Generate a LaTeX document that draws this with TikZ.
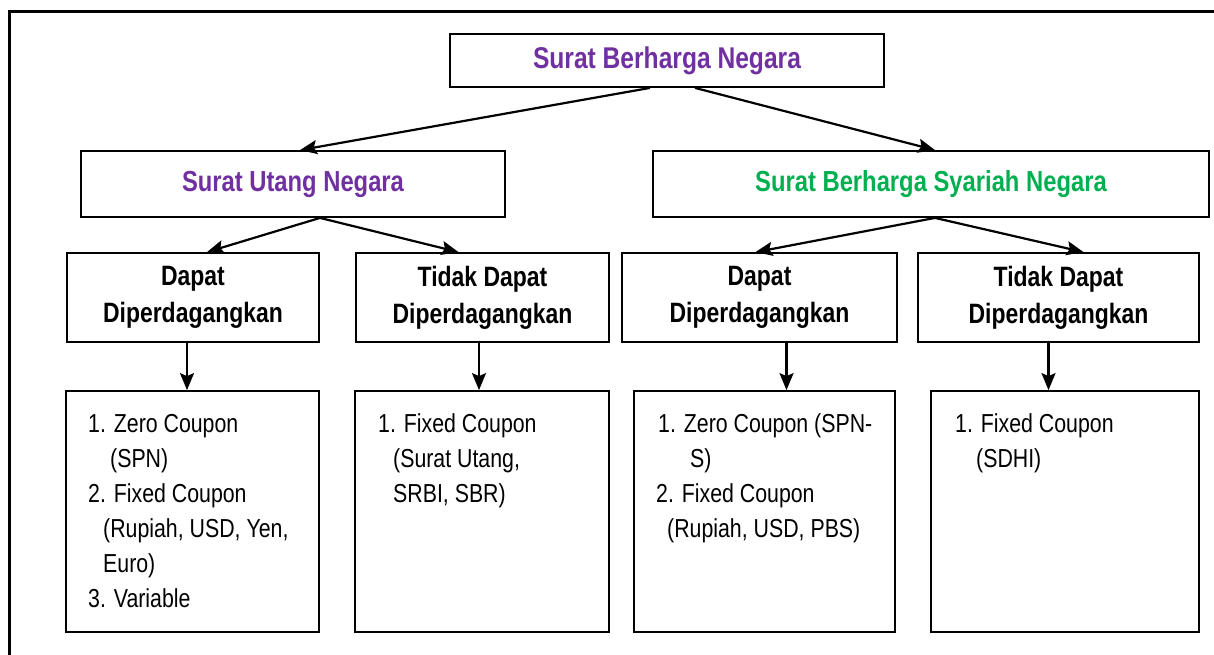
\documentclass[tikz,border=0pt]{standalone}
\usepackage{fontspec}
\setmainfont{Liberation Sans}[FakeStretch=0.82]
\usetikzlibrary{arrows.meta}
\definecolor{sbnpurple}{HTML}{7030A0}
\definecolor{sbngreen}{HTML}{00B050}
\begin{document}
\begin{tikzpicture}[x=1pt,y=-1pt,
  box/.style={draw=black, line width=1.8pt, inner sep=0pt},
  hdr/.style={font=\fontsize{29}{31}\selectfont\bfseries},
  midtxt/.style={font=\fontsize{28}{37}\selectfont\bfseries, align=center},
  item/.style={font=\fontsize{26}{30}\selectfont, anchor=base west, inner sep=0pt},
  arr/.style={line width=2.2pt, -{Stealth[length=17pt,width=14pt,inset=3pt]}}]
\useasboundingbox (0,0) rectangle (1214,654);
\clip (0,0) rectangle (1214,654);
% outer frame
\draw[line width=3pt] (9,11) rectangle (1230,670);
% top level
\node[box, minimum width=434pt, minimum height=53pt, font=\fontsize{30}{32}\selectfont\bfseries, text=sbnpurple] (sbn) at (667,60.5) {Surat Berharga Negara};
% second level
\node[box, minimum width=424pt, minimum height=66pt, hdr, text=sbnpurple] (sun) at (293,184) {Surat Utang Negara};
\node[box, minimum width=556pt, minimum height=66pt, hdr, text=sbngreen] (sbsn) at (931,184) {Surat Berharga Syariah Negara};
% third level
\node[box, minimum width=252pt, minimum height=89pt, midtxt] (ta) at (193,297.5) {Dapat\\Diperdagangkan};
\node[box, minimum width=253pt, minimum height=89pt, midtxt] (tb) at (482.5,297.5) {Tidak Dapat\\Diperdagangkan};
\node[box, minimum width=275pt, minimum height=89pt, midtxt] (tc) at (759.5,297.5) {Dapat\\Diperdagangkan};
\node[box, minimum width=281pt, minimum height=89pt, midtxt] (td) at (1058.5,297.5) {Tidak Dapat\\Diperdagangkan};
% fourth level
\node[box, minimum width=253pt, minimum height=241pt] (la) at (192.5,511.5) {};
\node[box, minimum width=254pt, minimum height=241pt] (lb) at (482,511.5) {};
\node[box, minimum width=261pt, minimum height=241pt] (lc) at (764.5,511.5) {};
\node[box, minimum width=268pt, minimum height=241pt] (ld) at (1065,511.5) {};
% list texts
\node[item] (la1) at (88,432) {1. Zero Coupon};
\node[item] (la2) at (110,467) {(SPN)};
\node[item] (la3) at (88,502) {2. Fixed Coupon};
\node[item] (la4) at (103,537) {(Rupiah, USD, Yen,};
\node[item] (la5) at (103,572) {Euro)};
\node[item] (la6) at (88,607) {3. Variable};
\node[item] (lb1) at (378,432) {1. Fixed Coupon};
\node[item] (lb2) at (393,467) {(Surat Utang,};
\node[item] (lb3) at (393,502) {SRBI, SBR)};
\node[item] (lc1) at (658,432) {1. Zero Coupon (SPN-};
\node[item] (lc2) at (690,467) {S)};
\node[item] (lc3) at (656,502) {2. Fixed Coupon};
\node[item] (lc4) at (667,537) {(Rupiah, USD, PBS)};
\node[item] (ld1) at (955,432) {1. Fixed Coupon};
\node[item] (ld2) at (976,467) {(SDHI)};
% arrows
\draw[arr] ([xshift=-17pt]sbn.south) -- ([xshift=7pt]sun.north);
\draw[arr] ([xshift=28pt]sbn.south) -- ([xshift=4pt]sbsn.north);
\draw[arr] ([xshift=27pt]sun.south) -- ([xshift=14pt]ta.north);
\draw[arr] ([xshift=27pt]sun.south) -- ([xshift=-24pt]tb.north);
\draw[arr] ([xshift=4pt]sbsn.south) -- ([xshift=-4pt]tc.north);
\draw[arr] ([xshift=4pt]sbsn.south) -- ([xshift=25pt]td.north);
\draw[arr] ([xshift=-6pt]ta.south) -- ([xshift=-6pt]ta.south |- la.north);
\draw[arr] ([xshift=-3.5pt]tb.south) -- ([xshift=-3.5pt]tb.south |- lb.north);
\draw[arr] ([xshift=27pt]tc.south) -- ([xshift=27pt]tc.south |- lc.north);
\draw[arr] ([xshift=-10pt]td.south) -- ([xshift=-10pt]td.south |- ld.north);
\end{tikzpicture}
\end{document}
